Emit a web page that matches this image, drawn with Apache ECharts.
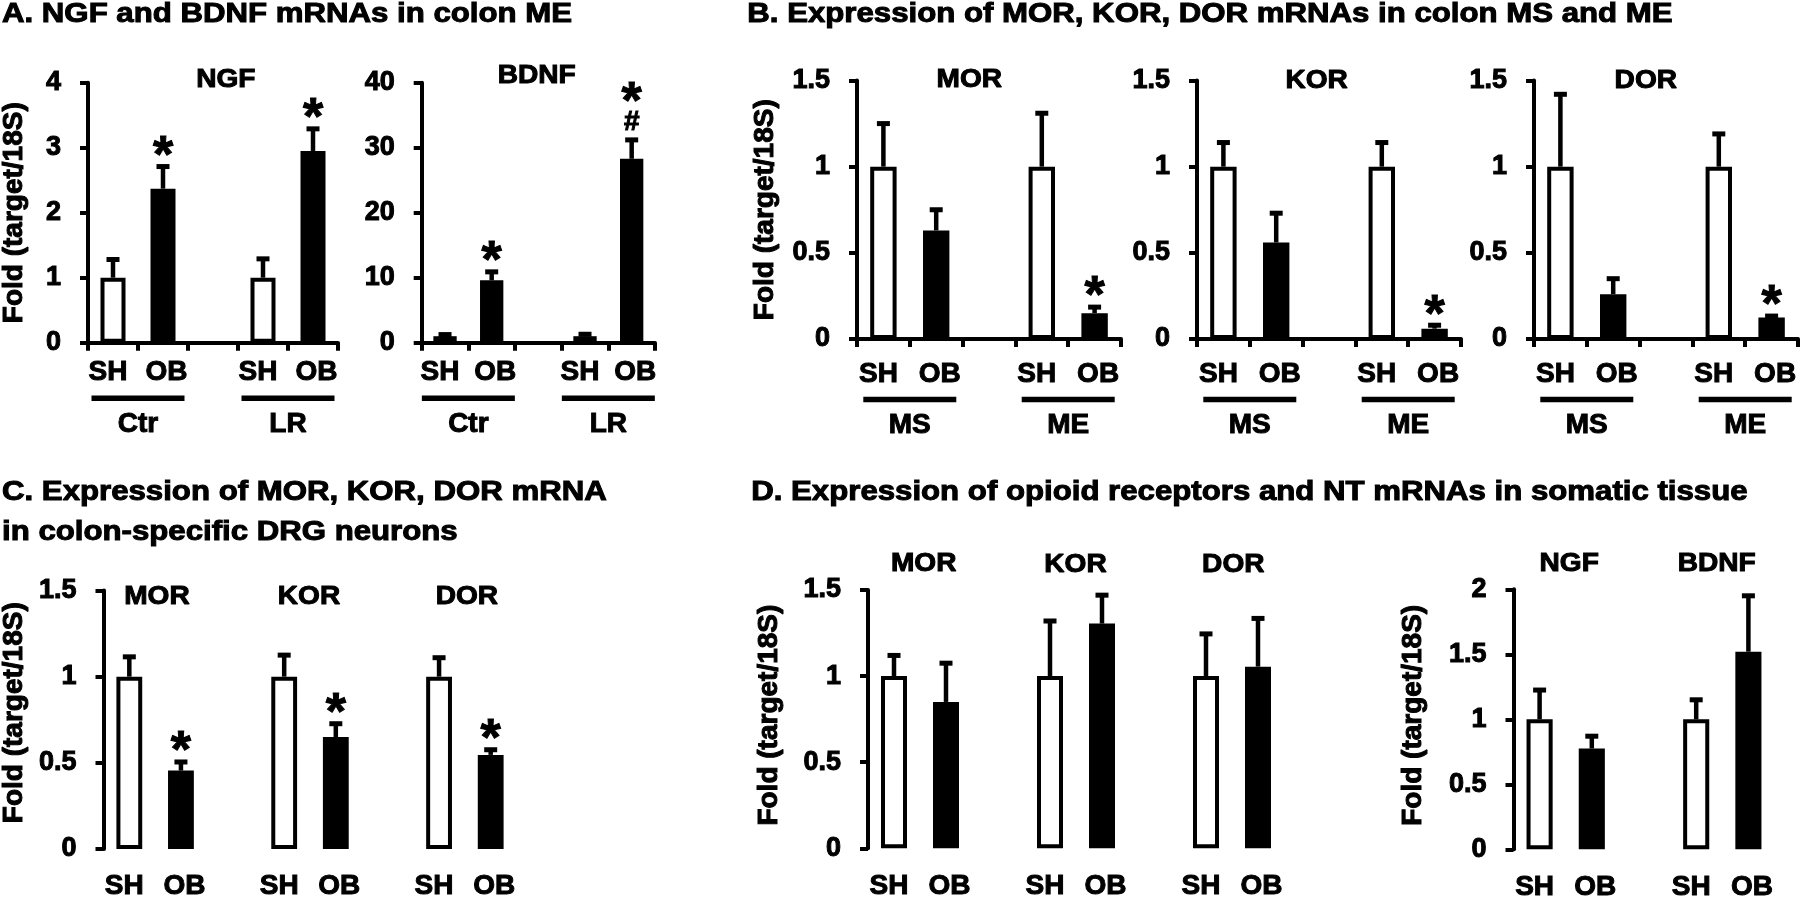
<!DOCTYPE html>
<html><head><meta charset="utf-8">
<script src="https://cdn.jsdelivr.net/npm/echarts@6/dist/echarts.min.js"></script>
<style>html,body{margin:0;padding:0;background:#fff}#c{width:1800px;height:898px}</style>
</head><body><div id="c"></div>
<script>
// ---------------- data ----------------
const catAB = ['SH', 'OB', '', 'SH', 'OB'];
const catCD = ['SH', 'OB', '', 'SH', 'OB', '', 'SH', 'OB'];
const groupsA = ['Ctr', 'LR'];
const groupsB = ['MS', 'ME'];

// A. NGF and BDNF in colon ME
const ngfMean = [1.00, 2.37, null, 1.00, 2.95];
const ngfSem  = [0.28, 0.34, null, 0.29, 0.34];
const ngfSig  = ['', '*', '', '', '*'];
const bdnfMean = [1.0, 9.6, null, 1.0, 28.3];
const bdnfSem  = [0.25, 1.3, null, 0.3, 2.9];
const bdnfSig  = ['', '*', '', '', '#*'];

// B. MOR, KOR, DOR in colon MS and ME
const morBMean = [1.00, 0.63, null, 1.00, 0.15];
const morBSem  = [0.25, 0.12, null, 0.31, 0.035];
const morBSig  = ['', '', '', '', '*'];
const korBMean = [1.00, 0.56, null, 1.00, 0.06];
const korBSem  = [0.14, 0.17, null, 0.14, 0.02];
const korBSig  = ['', '', '', '', '*'];
const dorBMean = [1.00, 0.26, null, 1.00, 0.125];
const dorBSem  = [0.42, 0.09, null, 0.19, 0.008];
const dorBSig  = ['', '', '', '', '*'];

// C. colon-specific DRG neurons (MOR, KOR, DOR)
const cMean = [1.00, 0.455, null, 1.00, 0.65, null, 1.00, 0.546];
const cSem  = [0.115, 0.05, null, 0.125, 0.077, null, 0.11, 0.03];
const cSig  = ['', '*', '', '', '*', '', '', '*'];

// D. somatic tissue: opioid receptors (MOR, KOR, DOR) and NT (NGF, BDNF)
const dOrMean = [1.00, 0.85, null, 1.00, 1.305, null, 1.00, 1.055];
const dOrSem  = [0.12, 0.225, null, 0.32, 0.165, null, 0.245, 0.28];
const dOrSig  = ['', '', '', '', '', '', '', ''];
const dNtMean = [1.00, 0.775, null, 1.00, 1.52];
const dNtSem  = [0.225, 0.095, null, 0.15, 0.43];
const dNtSig  = ['', '', '', '', ''];

const panelTitles = [
  'A. NGF and BDNF mRNAs in colon ME',
  'B. Expression of MOR, KOR, DOR mRNAs in colon MS and ME',
  'C. Expression of MOR, KOR, DOR mRNA',
  'in colon-specific DRG neurons',
  'D. Expression of opioid receptors and NT mRNAs in somatic tissue'
];
const subTitles = ['NGF', 'BDNF', 'MOR', 'KOR', 'DOR', 'MOR', 'KOR', 'DOR', 'MOR', 'KOR', 'DOR', 'NGF', 'BDNF'];
const yName = 'Fold (target/18S)';

// ---------------- layout / style ----------------
const FONT = '"Liberation Sans", Arial, Helvetica, sans-serif';
const TB = {textBorderColor: '#000', textBorderWidth: 1};
const panels = [
  {cats: catAB, mean: ngfMean, sem: ngfSem, sig: ngfSig, groups: groupsA, max: 4, interval: 1,
   box: {left: 88, top: 82.7, width: 250, height: 260}, name: true, nameGap: 60, xLine: true, xMargin: 16, ul: 55.6, gl: 81.5},
  {cats: catAB, mean: bdnfMean, sem: bdnfSem, sig: bdnfSig, groups: groupsA, max: 40, interval: 10,
   box: {left: 421.7, top: 82.7, width: 233.3, height: 260}, name: false, xLine: true, xMargin: 16, ul: 55.6, gl: 81.5},
  {cats: catAB, mean: morBMean, sem: morBSem, sig: morBSig, groups: groupsB, max: 1.5, interval: 0.5,
   box: {left: 857, top: 80.5, width: 264, height: 258.5}, name: true, nameGap: 78, xLine: true, xMargin: 21.5, ul: 60.5, gl: 86},
  {cats: catAB, mean: korBMean, sem: korBSem, sig: korBSig, groups: groupsB, max: 1.5, interval: 0.5,
   box: {left: 1197, top: 80.5, width: 264, height: 258.5}, name: false, xLine: true, xMargin: 21.5, ul: 60.5, gl: 86},
  {cats: catAB, mean: dorBMean, sem: dorBSem, sig: dorBSig, groups: groupsB, max: 1.5, interval: 0.5,
   box: {left: 1534, top: 80.5, width: 264, height: 258.5}, name: false, xLine: true, xMargin: 21.5, ul: 60.5, gl: 86},
  {cats: catCD, mean: cMean, sem: cSem, sig: cSig, groups: null, max: 1.5, interval: 0.5,
   box: {left: 103.5, top: 590.5, width: 413, height: 258.5}, name: true, nameGap: 75.5, namePad: 14, xLine: false, xMargin: 23.5},
  {cats: catCD, mean: dOrMean, sem: dOrSem, sig: dOrSig, groups: null, max: 1.5, interval: 0.5,
   box: {left: 868, top: 590, width: 416, height: 258.3}, name: true, nameGap: 85, namePad: 8, xLine: false, xMargin: 23.5},
  {cats: catAB, mean: dNtMean, sem: dNtSem, sig: dNtSig, groups: null, max: 2, interval: 0.5,
   box: {left: 1513.5, top: 589.3, width: 261, height: 260}, name: true, nameGap: 86, namePad: 8, xLine: false, xMargin: 23.5}
];
const titlePos = [[2, 14.5], [747.3, 14.5], [2, 492.5], [2, 532.5], [751.2, 492.5]];
const subPos = [[225.8, 80], [536.7, 76], [969.3, 80], [1316.7, 81], [1645.8, 80.5],
  [156.9, 596.5], [309, 596.5], [466.9, 596.5], [923.7, 564], [1075.5, 565], [1233.3, 565],
  [1569.2, 564.2], [1716.7, 564.2]];

const LW = 4;
const grids = [], xAxes = [], yAxes = [], series = [];
const labelRich = {
  s: Object.assign({color: '#000', fontFamily: FONT, fontWeight: 'bold', fontSize: 28, padding: [0, 10, 0, 0]}, TB),
  o: Object.assign({color: '#000', fontFamily: FONT, fontWeight: 'bold', fontSize: 28, padding: [0, 0, 0, 7]}, TB)
};

panels.forEach((p, k) => {
  grids.push(Object.assign({containLabel: false, outerBoundsMode: 'none'}, p.box));
  xAxes.push({
    type: 'category', gridIndex: k, data: p.cats, boundaryGap: true,
    axisLine: {show: p.xLine, lineStyle: {color: '#000', width: LW}},
    axisTick: {show: p.xLine, length: 8, alignWithLabel: false, interval: 0, lineStyle: {color: '#000', width: LW}},
    axisLabel: Object.assign({interval: 0, margin: p.xMargin, color: '#000', fontFamily: FONT, fontWeight: 'bold', fontSize: 28,
      formatter: v => v === 'SH' ? '{s|SH}' : (v === 'OB' ? '{o|OB}' : v), rich: labelRich}, TB),
    splitLine: {show: false}
  });
  yAxes.push({
    type: 'value', gridIndex: k, min: 0, max: p.max, interval: p.interval,
    name: p.name ? yName : '', nameLocation: 'middle', nameRotate: 90, nameGap: p.nameGap || 0,
    nameTextStyle: Object.assign({color: '#000', fontFamily: FONT, fontWeight: 'bold', fontSize: 28,
      padding: [0, 0, 0, p.namePad || 0]}, TB),
    axisLine: {show: true, lineStyle: {color: '#000', width: LW}},
    axisTick: {show: true, length: 8, lineStyle: {color: '#000', width: LW}},
    axisLabel: Object.assign({margin: 27, color: '#000', fontFamily: FONT, fontWeight: 'bold', fontSize: 27}, TB),
    splitLine: {show: false}
  });
  // bars
  series.push({
    type: 'bar', xAxisIndex: k, yAxisIndex: k, barWidth: '50%', silent: true, z: 2,
    data: p.mean.map((v, i) => v == null ? null : {
      value: v,
      itemStyle: p.cats[i] === 'SH'
        ? {color: '#fff', borderColor: '#000', borderWidth: 4}
        : {color: '#000', borderColor: '#000', borderWidth: 4}
    })
  });
  // error bars (upper)
  const errData = [];
  p.mean.forEach((v, i) => { if (v != null) errData.push([i, v, p.sem[i]]); });
  series.push({
    type: 'custom', xAxisIndex: k, yAxisIndex: k, silent: true, z: 3, clip: false,
    data: errData,
    renderItem: (params, api) => {
      const i = api.value(0), m = api.value(1), s = api.value(2);
      const a = api.coord([i, m]), b = api.coord([i, m + s]);
      const cap = 13;
      return {type: 'group', children: [
        {type: 'line', shape: {x1: a[0], y1: a[1], x2: b[0], y2: b[1]}, style: {stroke: '#000', lineWidth: 4.5}},
        {type: 'line', shape: {x1: b[0] - cap / 2, y1: b[1], x2: b[0] + cap / 2, y2: b[1]}, style: {stroke: '#000', lineWidth: 5}}
      ]};
    }
  });
  // significance marks
  const sigData = [], sigTxt = [];
  p.mean.forEach((v, i) => { if (v != null && p.sig[i]) { sigData.push([i, v + p.sem[i]]); sigTxt.push(p.sig[i]); } });
  if (sigData.length) series.push({
    type: 'custom', xAxisIndex: k, yAxisIndex: k, silent: true, z: 4, clip: false,
    data: sigData,
    renderItem: (params, api) => {
      const pt = api.coord([api.value(0), api.value(1)]);
      const chars = sigTxt[params.dataIndex].split('');
      let off = 0;
      const children = chars.map((ch, j) => {
        if (ch === '*') {
          off += (j === 0 ? 21 : 30);
          return {type: 'text', x: pt[0], y: pt[1] - off + 12,
            style: {text: '*', fill: '#000', stroke: '#000', lineWidth: 1, font: 'bold 52px ' + FONT, align: 'center', verticalAlign: 'middle'}};
        }
        off += (j === 0 ? 18 : 30);
        return {type: 'text', x: pt[0], y: pt[1] - off,
          style: {text: ch, fill: '#000', stroke: '#000', lineWidth: 1, font: 'bold 28px ' + FONT, align: 'center', verticalAlign: 'middle'}};
      });
      return {type: 'group', children};
    }
  });
  // group underline + label
  if (p.groups) {
    const gData = [];
    p.cats.forEach((c, i) => { if (c === 'SH') gData.push([i, 0]); });
    series.push({
      type: 'custom', xAxisIndex: k, yAxisIndex: k, silent: true, z: 4, clip: false,
      data: gData,
      renderItem: (params, api) => {
        const i = api.value(0);
        const a = api.coord([i, 0]), b = api.coord([i + 1, 0]);
        const cx = (a[0] + b[0]) / 2, y0 = a[1];
        return {type: 'group', children: [
          {type: 'line', shape: {x1: cx - 46.5, y1: y0 + p.ul, x2: cx + 46.5, y2: y0 + p.ul}, style: {stroke: '#000', lineWidth: 5.5}},
          {type: 'text', x: cx, y: y0 + p.gl,
            style: {text: p.groups[params.dataIndex], fill: '#000', stroke: '#000', lineWidth: 1, font: 'bold 28px ' + FONT, align: 'center', verticalAlign: 'middle'}}
        ]};
      }
    });
  }
});

const graphics = [];
panelTitles.forEach((t, i) => graphics.push({
  type: 'text', x: titlePos[i][0], y: titlePos[i][1], scaleX: 1.155, silent: true,
  style: {text: t, fill: '#000', stroke: '#000', lineWidth: 1, font: 'bold 27px ' + FONT, align: 'left', verticalAlign: 'middle'}
}));
subTitles.forEach((t, i) => graphics.push({
  type: 'text', x: subPos[i][0], y: subPos[i][1], scaleX: 1.08, silent: true,
  style: {text: t, fill: '#000', stroke: '#000', lineWidth: 1, font: 'bold 26px ' + FONT, align: 'center', verticalAlign: 'middle'}
}));

const chart = echarts.init(document.getElementById('c'), null, {renderer: 'canvas'});
chart.setOption({
  backgroundColor: '#fff',
  animation: false,
  grid: grids, xAxis: xAxes, yAxis: yAxes, series: series,
  graphic: graphics
});
</script></body></html>
